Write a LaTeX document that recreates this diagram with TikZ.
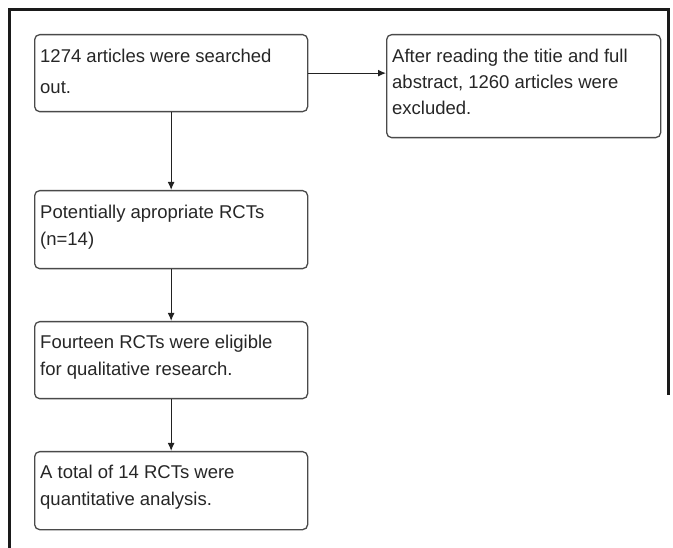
\documentclass[tikz,border=0pt]{standalone}
\usepackage{fontspec}
\setmainfont{Liberation Sans}
\usetikzlibrary{arrows.meta}
\definecolor{boxline}{HTML}{4A4A4A}
\definecolor{connline}{HTML}{222222}
\definecolor{frameline}{HTML}{1A1A1A}
\definecolor{txtcol}{HTML}{262626}
\tikzset{
  stepbox/.style={draw=boxline, line width=1.3pt, rounded corners=5pt, anchor=north west, inner sep=0pt, minimum width=273pt},
  txt/.style={anchor=north west, inner sep=0pt, align=left, text=txtcol, font=\fontsize{18.5}{27}\selectfont},
  conn/.style={draw=connline, line width=1.2pt, -{Latex[length=8pt,width=7pt]}},
}
\newcommand{\fl}{\rule{0pt}{14pt}}
\begin{document}
\begin{tikzpicture}[x=1pt,y=-1pt]
\useasboundingbox (0,0) rectangle (673,548);
% outer frame
\draw[frameline, line width=3pt] (9,548) -- (9,10) -- (668,10) -- (668,395);
% boxes
\node[stepbox, minimum height=77pt] (b1) at (34,34) {};
\node[stepbox, minimum height=103pt, minimum width=274pt] (b2) at (386,34) {};
\node[stepbox, minimum height=78pt] (b3) at (34,190) {};
\node[stepbox, minimum height=77pt] (b4) at (34,321) {};
\node[stepbox, minimum height=78pt] (b5) at (34,451) {};
% texts
\node[txt, font=\fontsize{18.5}{31}\selectfont] (t1) at (40,48) {\fl 1274 articles were searched\\out.};
\node[txt, font=\fontsize{18.5}{26}\selectfont] (t2) at (392,48) {\fl After reading the titie and full\\abstract, 1260 articles were\\excluded.};
\node[txt] (t3) at (40,204) {\fl Potentially apropriate RCTs\\(n=14)};
\node[txt] (t4) at (40,334) {\fl Fourteen RCTs were eligible\\for qualitative research.};
\node[txt] (t5) at (40,464) {\fl A total of 14 RCTs were\\quantitative analysis.};
% connectors
\draw[conn] (b1.east) -- (b2.west |- b1.east);
\draw[conn] (b1.south) -- (b3.north);
\draw[conn] (b3.south) -- (b4.north);
\draw[conn] (b4.south) -- (b5.north);
\end{tikzpicture}
\end{document}
